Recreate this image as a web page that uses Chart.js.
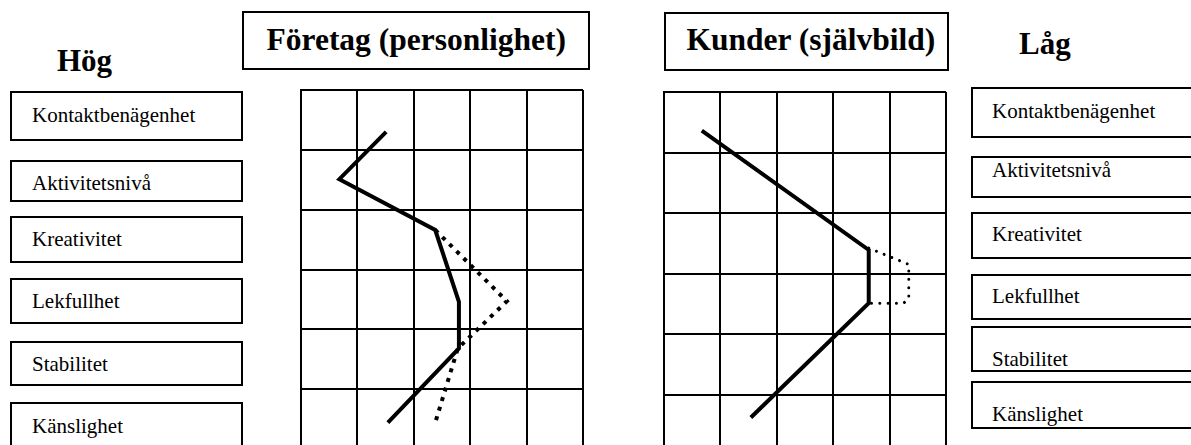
<!DOCTYPE html>
<html>
<head>
<meta charset="utf-8">
<script src="https://cdn.jsdelivr.net/npm/chart.js@4/dist/chart.umd.min.js"></script>
<style>
  html, body { margin: 0; padding: 0; background: #fff; }
  body { width: 1191px; height: 445px; overflow: hidden; position: relative;
         font-family: "Liberation Serif", "Times New Roman", serif; color: #000; }
  .box { position: absolute; box-sizing: border-box; border: 2px solid #000; background: #fff; }
  .txt { position: absolute; white-space: nowrap; line-height: 1; }
  canvas { position: absolute; }
</style>
</head>
<body>
<canvas id="foretagChart" width="290" height="367" style="left:297px; top:86px;"></canvas>
<canvas id="kunderChart" width="290" height="371" style="left:660px; top:88px;"></canvas>

<script>
// traits, top to bottom (same order on both sides)
const traits = ["Kontaktbenägenhet", "Aktivitetsnivå", "Kreativitet", "Lekfullhet", "Stabilitet", "Känslighet"];
const titleLeft = "Företag (personlighet)";
const titleRight = "Kunder (självbild)";
const highLabel = "Hög";
const lowLabel = "Låg";

// grid units: x = column (0..5, left = hög), y = row (0..6, top down)
const foretagX = [1.51, 0.68, 2.38, 2.80, 2.80, 1.54];
const foretagY = [0.70, 1.49, 2.34, 3.54, 4.32, 5.56];
const foretagDotX = [2.38, 3.65, 2.78, 2.38];
const foretagDotY = [2.34, 3.53, 4.32, 5.56];

const kunderX = [0.67, 3.63, 3.63, 1.54];
const kunderY = [0.64, 2.61, 3.49, 5.38];
const kunderDotX = [3.63, 4.34, 4.34, 4.25, 3.63];
const kunderDotY = [2.58, 2.85, 3.41, 3.49, 3.49];

// layout of the trait boxes (pixels)
const leftBoxTop = [91.7, 160.7, 216.7, 279.3, 341.7, 403.3];
const leftBoxBottom = [140, 201, 262.3, 323.3, 385, 470];
const leftBaseline = [122.3, 190.7, 246.7, 308.3, 371.7, 433.3];
const rightBoxTop = [88.3, 157.3, 212.7, 275, 326.7, 381.7];
const rightBoxBottom = [136.7, 197.3, 258.3, 319, 370.7, 428.3];
const rightBaseline = [118.3, 177.3, 241.7, 304, 366.7, 421.7];

function addBox(x1, y1, x2, y2) {
  var d = document.createElement("div");
  d.className = "box";
  d.style.left = (x1 - 1) + "px";
  d.style.top = (y1 - 1) + "px";
  d.style.width = (x2 - x1 + 2) + "px";
  d.style.height = (y2 - y1 + 2) + "px";
  document.body.appendChild(d);
}

function addText(str, x, baseline, size, bold) {
  var d = document.createElement("div");
  d.className = "txt";
  d.textContent = str;
  d.style.fontSize = size + "px";
  d.style.fontWeight = bold ? "bold" : "normal";
  d.style.left = x + "px";
  d.style.top = (baseline - 0.84 * size) + "px";
  document.body.appendChild(d);
  return d;
}

for (var i = 0; i < traits.length; i++) {
  addBox(11, leftBoxTop[i], 242, leftBoxBottom[i]);
  addText(traits[i], 32, leftBaseline[i], 21, false);
  addBox(972, rightBoxTop[i], 1260, rightBoxBottom[i]);
  addText(traits[i], 992, rightBaseline[i], 21, false);
}

addBox(243, 12, 589, 69);
var t1 = addText(titleLeft, 0, 50, 31.5, true);
t1.style.left = (416 - t1.offsetWidth / 2) + "px";
addBox(665, 13, 948, 70);
var t2 = addText(titleRight, 0, 50, 31.5, true);
t2.style.left = (811 - t2.offsetWidth / 2) + "px";

addText(highLabel, 57, 71, 31, true);
addText(lowLabel, 1019, 54, 31, true);

function points(xs, ys) {
  var out = [];
  for (var i = 0; i < xs.length; i++) out.push({ x: xs[i], y: ys[i] });
  return out;
}

function gridScale(max) {
  return {
    type: "linear", min: 0, max: max,
    ticks: { display: false, stepSize: 1 },
    grid: { color: "#000", lineWidth: 2, drawTicks: false },
    border: { color: "#000", width: 2 }
  };
}

function makeChart(id, solid, dotted, dotStyle) {
  var ctx = document.getElementById(id).getContext("2d");
  return new Chart(ctx, {
    type: "scatter",
    data: {
      datasets: [
        { data: solid, showLine: true, borderColor: "#000", borderWidth: 4,
          pointRadius: 0, tension: 0, fill: false },
        Object.assign({ data: dotted, showLine: true, borderColor: "#000",
          pointRadius: 0, tension: 0, fill: false }, dotStyle)
      ]
    },
    options: {
      responsive: false,
      animation: false,
      events: [],
      layout: { padding: 4, autoPadding: false },
      plugins: { legend: { display: false }, tooltip: { enabled: false } },
      scales: {
        x: gridScale(5),
        y: Object.assign(gridScale(6), { reverse: true })
      }
    }
  });
}

makeChart("foretagChart",
  points(foretagX, foretagY),
  points(foretagDotX, foretagDotY),
  { borderWidth: 4, borderDash: [4, 6], borderCapStyle: "butt" });

makeChart("kunderChart",
  points(kunderX, kunderY),
  points(kunderDotX, kunderDotY),
  { borderWidth: 3, borderDash: [0.01, 8.3], borderCapStyle: "round" });
</script>
</body>
</html>
